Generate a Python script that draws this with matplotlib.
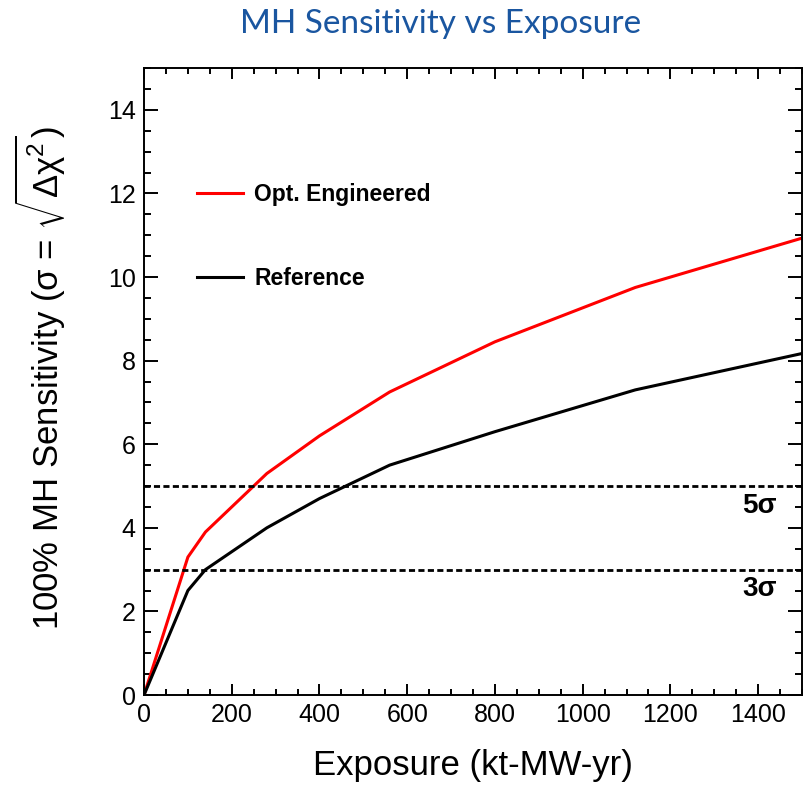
import matplotlib

matplotlib.use("Agg")

import matplotlib.pyplot as plt  # noqa: E402
from matplotlib.ticker import MultipleLocator  # noqa: E402

# values
EXPOSURE = [0, 100, 140, 280, 400, 560, 800, 1120, 1500]
OPT_ENGINEERED = [0, 3.3, 3.9, 5.3, 6.2, 7.25, 8.45, 9.75, 10.93]
REFERENCE = [0, 2.5, 3.0, 4.0, 4.7, 5.5, 6.3, 7.3, 8.17]
SERIES_LABELS = ["Opt. Engineered", "Reference"]
SIGMA_LEVELS = [5, 3]
SIGMA_LABELS = ["5σ", "3σ"]

SANS = ["Liberation Sans", "DejaVu Sans"]

plt.rcParams["font.family"] = SANS
plt.rcParams["mathtext.fontset"] = "custom"
plt.rcParams["mathtext.rm"] = "Liberation Sans"
plt.rcParams["mathtext.it"] = "Liberation Sans:italic"

fig = plt.figure(figsize=(8.06, 7.89), dpi=100)
ax = fig.add_axes((0.1787, 0.1191, 0.8163, 0.7947))

ax.plot(EXPOSURE, OPT_ENGINEERED, color="#ff0000", linewidth=2.2, label=SERIES_LABELS[0])
ax.plot(EXPOSURE, REFERENCE, color="black", linewidth=2.2, label=SERIES_LABELS[1])

for level, text in zip(SIGMA_LEVELS, SIGMA_LABELS):
    ax.axhline(level, color="black", linewidth=2.0, dashes=(2.2, 1.2))
    ax.text(1404, level - 0.47, text, ha="center", va="center",
            fontsize=20, fontweight="bold")

ax.set_xlim(0, 1500)
ax.set_ylim(0, 15)
ax.xaxis.set_major_locator(MultipleLocator(200))
ax.xaxis.set_minor_locator(MultipleLocator(50))
ax.yaxis.set_major_locator(MultipleLocator(2))
ax.yaxis.set_minor_locator(MultipleLocator(0.5))

ax.tick_params(which="both", direction="in", top=True, right=True,
               width=1.4, labelsize=18)
ax.tick_params(axis="x", which="major", length=8, pad=6)
ax.tick_params(axis="x", which="minor", length=4)
ax.tick_params(axis="y", which="major", length=10, pad=6)
ax.tick_params(axis="y", which="minor", length=5)
for spine in ax.spines.values():
    spine.set_linewidth(1.4)

ax.set_xlabel("Exposure (kt-MW-yr)", fontsize=25)
ax.xaxis.set_label_coords(0.5, -0.086)
ax.set_ylabel(r"100% MH Sensitivity (σ = $\sqrt{\mathrm{Δχ}^{2}}$)", fontsize=25)
ax.yaxis.set_label_coords(-0.115, 0.505)

ax.legend(loc="upper left", bbox_to_anchor=(0.0805, 0.816), frameon=False,
          borderpad=0, borderaxespad=0, handlelength=2.0, handletextpad=0.5,
          labelspacing=2.65, prop={"family": SANS, "weight": "bold", "size": 16.5})

fig.text(0.547, 0.958, "MH Sensitivity vs Exposure", ha="center", va="baseline",
         fontsize=24, color="#1a56a0", family=["Lato", "DejaVu Sans"])

fig.savefig("out.png", dpi=100)
